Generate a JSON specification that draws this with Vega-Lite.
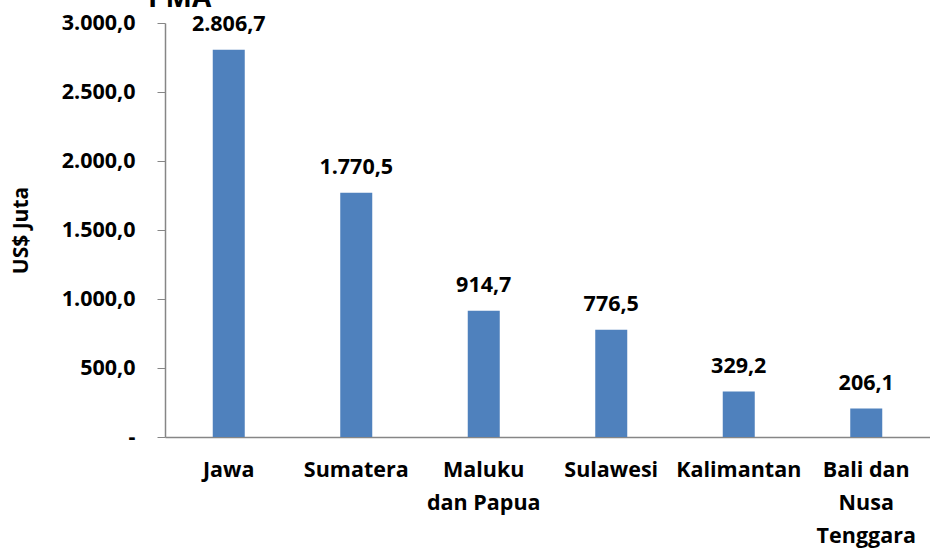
{
  "$schema": "https://vega.github.io/schema/vega-lite/v6.json",
  "autosize": "none",
  "width": 765,
  "height": 414,
  "padding": {"left": 165, "top": 23, "right": 0, "bottom": 112},
  "background": "white",
  "config": {
    "locale": {"number": {"decimal": ",", "thousands": ".", "grouping": [3], "currency": ["", ""]}},
    "font": "Open Sans",
    "view": {"stroke": null}
  },
  "title": {
    "text": "PMA",
    "anchor": "start",
    "frame": "group",
    "dx": -17,
    "dy": 23,
    "offset": 0,
    "baseline": "alphabetic",
    "fontSize": 28,
    "fontWeight": "bold",
    "font": "Open Sans",
    "color": "black"
  },
  "data": {
    "values": [
      {"wilayah": "Jawa", "nilai": 2806.7},
      {"wilayah": "Sumatera", "nilai": 1770.5},
      {"wilayah": "Maluku dan Papua", "nilai": 914.7},
      {"wilayah": "Sulawesi", "nilai": 776.5},
      {"wilayah": "Kalimantan", "nilai": 329.2},
      {"wilayah": "Bali dan Nusa Tenggara", "nilai": 206.1}
    ]
  },
  "encoding": {
    "x": {
      "field": "wilayah",
      "type": "nominal",
      "sort": null,
      "scale": {"paddingInner": 0, "paddingOuter": 0},
      "axis": {
        "title": null,
        "labelAngle": 0,
        "ticks": false,
        "labelPadding": 22,
        "labelFont": "Open Sans",
        "labelFontSize": 21.5,
        "labelFontWeight": "bold",
        "labelColor": "black",
        "labelLineHeight": 33,
        "labelBaseline": "top",
        "domainColor": "#868686",
        "domainWidth": 1.5,
        "labelExpr": "datum.label == 'Maluku dan Papua' ? ['Maluku','dan Papua'] : datum.label == 'Bali dan Nusa Tenggara' ? ['Bali dan','Nusa','Tenggara'] : datum.label"
      }
    },
    "y": {
      "field": "nilai",
      "type": "quantitative",
      "scale": {"domain": [0, 3000], "nice": false},
      "axis": {
        "title": "US$ Juta",
        "titleFont": "Open Sans",
        "titleFontSize": 21,
        "titleFontWeight": "bold",
        "titleColor": "black",
        "titlePadding": 0,
        "titleX": -134,
        "values": [0, 500, 1000, 1500, 2000, 2500, 3000],
        "grid": false,
        "tickSize": 8,
        "tickColor": "#868686",
        "domainColor": "#868686",
        "domainWidth": 1.5,
        "labelPadding": 22,
        "labelFont": "Open Sans",
        "labelFontSize": 21.5,
        "labelFontWeight": "bold",
        "labelColor": "black",
        "labelExpr": "datum.value == 0 ? '-' : format(datum.value, ',.1f')"
      }
    }
  },
  "layer": [
    {"mark": {"type": "bar", "size": 32, "color": "#4F81BD"}},
    {
      "mark": {"type": "text", "baseline": "alphabetic", "dy": -19, "fontSize": 21.5, "fontWeight": "bold", "font": "Open Sans", "color": "black"},
      "encoding": {"text": {"field": "nilai", "type": "quantitative", "format": ",.1f"}}
    }
  ]
}
